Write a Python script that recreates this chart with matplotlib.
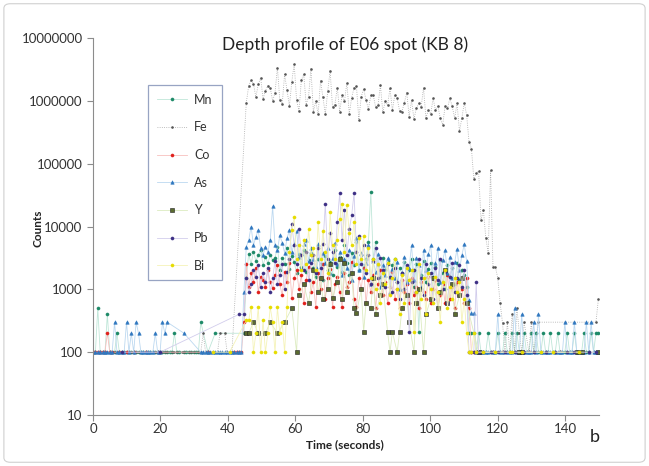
import numpy as np
import matplotlib.pyplot as plt
from matplotlib.patches import FancyBboxPatch
from matplotlib.ticker import NullLocator

plt.rcParams['font.family'] = ['Lato', 'DejaVu Sans']

# one reading every 0.71 s, 212 readings
adim = 0.71
zaman = np.arange(212) * adim

# ---- Fe (counts), 0 = no reading ----
fe_bas = [100, 100, 100, 0, 100, 100, 100, 100, 0, 100,
          100, 0, 100, 100, 100, 0, 100, 100, 100, 100,
          0, 100, 100, 100, 0, 100, 100, 100, 0, 100,
          100, 100, 0, 100, 100, 100, 0, 100, 100, 0,
          100, 100, 100, 0, 100, 100, 200, 100, 0, 100,
          100, 0, 100, 200, 0, 200, 100, 0, 100, 0,
          0, 0, 0, 0]
fe_plato = [933000, 1720000, 2140000, 1860000, 1150000, 1820000, 2340000, 1070000, 1450000, 1740000,
            1620000, 1000000, 1350000, 3390000, 1020000, 891000, 2630000, 1480000, 832000, 2000000,
            3890000, 1020000, 692000, 2140000, 2630000, 871000, 1170000, 3240000, 676000, 977000,
            617000, 2090000, 1150000, 617000, 1410000, 3020000, 794000, 871000, 1620000, 676000,
            1230000, 977000, 1950000, 617000, 1120000, 1620000, 1700000,
            501000, 1170000, 1550000, 1020000, 741000, 1230000, 1230000, 794000, 851000, 1780000,
            661000, 977000, 851000, 1580000, 708000, 1230000, 1100000, 692000, 676000, 933000,
            1350000, 562000, 1020000, 513000, 759000, 912000, 794000, 1620000, 537000, 708000,
            617000, 1100000, 708000, 832000, 525000, 417000, 813000, 759000, 1100000, 813000,
            525000, 912000, 331000, 525000, 933000, 596000, 224000]
fe_dusus = [174000, 57500, 70800, 75900, 12600, 18200, 6610, 3800, 79400, 2290,
            2290, 1510, 603, 288, 100]
fe_son = [300, 100, 400, 100, 500, 200, 100, 300, 0, 100,
          300, 100, 0, 300, 0, 0, 0, 0, 0, 0,
          0, 0, 0, 0, 0, 0, 0, 0, 0, 0,
          0, 0, 0, 0, 0, 0, 0, 300, 700]

# ---- minor elements: start / sputter plateau / end ----
mn_bas = [100, 100, 500, 100, 100, 100, 400, 100, 100, 100,
          200, 100, 100, 100, 100, 100, 100, 100, 100, 100,
          100, 100, 100, 100, 100, 100, 100, 100, 100, 100,
          100, 100, 100, 100, 200, 100, 100, 0, 100, 100,
          100, 100, 100, 100, 100, 300, 0, 0, 100, 0,
          0, 200, 0, 0, 0, 0, 0, 0, 0, 0,
          0, 0]
mn_plato = [0, 200, 1500, 3700, 2500, 4000, 2800, 3500, 4300, 2400,
            3300, 2600, 3500, 2900, 3100, 4800, 2000, 3200, 2500, 4500,
            2100, 3400, 2700, 1800, 3600, 2300, 4200, 1900, 2900, 3800,
            2200, 1600, 3000, 2500, 1400, 3400, 2000, 2700, 1700, 4200,
            2300, 3300, 1900, 5000, 2600, 1700, 3800, 2400, 5700, 2000,
            3500, 2200, 3000, 5700, 35000, 3000, 5700, 2400, 1600, 3200,
            2000, 2800, 1500, 2400, 3000, 1300, 2200, 1800, 2700, 1400,
            2000, 3000, 1100, 2500, 210, 1700, 2800, 1300, 2100, 2600,
            1500, 2300, 1200, 2900, 1800, 1000, 2400, 1600, 2200, 1200,
            2600, 1400, 2000, 1700, 1100, 200, 200]
mn_son = [200, 100, 200, 100, 100, 100, 200, 100, 100, 100,
          200, 100, 100, 200, 100, 100, 200, 100, 200, 100,
          100, 200, 100, 100, 200, 100, 200, 100, 100, 200,
          100, 100, 200, 100, 100, 200, 100, 100, 100, 200,
          100, 100, 200, 100, 100, 100, 200, 100, 100, 200,
          100, 200, 200]

co_bas = [100, 100, 100, 100, 100, 100, 200, 100, 100, 0,
          0, 100, 0, 0, 100, 0, 0, 100, 0, 0,
          0, 0, 100, 0, 0, 0, 0, 100, 0, 0,
          0, 0, 0, 0, 0, 0, 0, 0, 0, 0,
          0, 0, 0, 0, 0, 0, 0, 0, 100, 0,
          0, 0, 0, 0, 0, 0, 0, 0, 0, 100,
          100, 100]
co_plato = [100, 300, 2500, 1100, 1800, 1300, 2200, 900, 1600, 1400,
            1100, 2000, 1300, 1050, 1700, 2400, 1200, 800, 1900, 1300,
            2600, 730, 1500, 2000, 1000, 1700, 600, 1400, 2300, 900,
            1300, 520, 1800, 1000, 2500, 700, 1500, 2100, 520, 1200,
            1600, 900, 520, 1800, 1100, 1300, 2700, 700, 520, 1500,
            1000, 2200, 600, 1400, 900, 1700, 500, 1200, 2000, 800,
            1300, 600, 1100, 1900, 700, 1000, 500, 1400, 900, 1200,
            600, 1500, 800, 1100, 500, 1300, 900, 700, 1600, 600,
            1000, 1400, 500, 800, 1200, 600, 1700, 700, 1100, 500,
            1300, 800, 1000, 600, 1500, 500, 100]
co_son = [100, 100, 0, 100, 0, 0, 0, 0, 100, 0,
          0, 0, 100, 0, 0, 0, 0, 0, 0, 0,
          0, 0, 0, 100, 0, 0, 0, 0, 0, 0,
          0, 0, 0, 0, 0, 0, 100, 0, 0, 0,
          0, 0, 0, 0, 0, 0, 0, 0, 0, 0,
          0, 0, 0]

as_bas = [100, 100, 100, 100, 100, 100, 100, 100, 100, 300,
          100, 100, 100, 100, 300, 100, 200, 100, 300, 200,
          100, 100, 100, 100, 100, 100, 200, 100, 100, 300,
          200, 300, 0, 0, 0, 0, 0, 0, 200, 0,
          0, 0, 0, 0, 0, 100, 100, 100, 100, 100,
          100, 100, 100, 100, 100, 100, 100, 100, 100, 100,
          100, 100]
as_plato = [100, 900, 4800, 6000, 10000, 5000, 6900, 8700, 4500, 3500,
            4800, 3900, 6000, 21000, 5000, 4200, 7200, 5500, 3800, 6500,
            8700, 4000, 5200, 8600, 3300, 2200, 5200, 6000, 2800, 4500,
            3000, 2300, 5200, 1500, 3800, 2600, 4500, 1800, 3200, 5500,
            2500, 4000, 1700, 3000, 2200, 4200, 1400, 3400, 6500, 2000,
            3800, 1600, 2600, 5000, 1200, 2800, 1900, 3600, 1100, 2400,
            1700, 3100, 900, 2100, 1500, 2700, 1000, 1800, 3300, 1300,
            2200, 5100, 1400, 3200, 2400, 1100, 4300, 2000, 3600, 5000,
            1600, 2600, 4600, 1300, 2900, 4200, 1800, 3300, 1500, 2700,
            4400, 2000, 3500, 5200, 2800, 680, 420]
as_son = [420, 100, 100, 100, 100, 100, 100, 0, 100, 100,
          400, 100, 100, 0, 100, 100, 100, 510, 100, 100,
          400, 100, 100, 100, 100, 300, 100, 400, 100, 100,
          100, 100, 100, 0, 100, 100, 100, 100, 300, 100,
          100, 100, 300, 100, 100, 100, 100, 300, 100, 300,
          100, 100, 100]

y_bas = [0] * 62
y_plato = [0, 0, 200, 200, 0, 300, 0, 200, 0, 0,
           200, 0, 300, 0, 0, 200, 0, 0, 300, 0,
           0, 500, 0, 100, 800, 0, 1200, 0, 600, 0,
           2000, 0, 900, 1500, 700, 0, 1000, 2500, 730, 0,
           1300, 3000, 700, 2600, 900, 0, 1800, 500, 420, 0,
           1000, 210, 600, 0, 500, 1500, 400, 0, 800, 1200,
           0, 210, 100, 210, 0, 100, 210, 500, 0, 800,
           300, 0, 100, 600, 1000, 0, 100, 400, 0, 700,
           1500, 0, 500, 900, 0, 2000, 600, 0, 1200, 400,
           0, 800, 1500, 0, 600, 0, 0]
y_son = [0, 0, 100, 0, 0, 0, 0, 0, 0, 0,
         0, 0, 0, 0, 0, 0, 0, 0, 0, 100,
         100, 0, 0, 0, 0, 0, 0, 0, 0, 0,
         0, 0, 0, 0, 0, 0, 0, 0, 0, 0,
         0, 0, 0, 100, 0, 100, 0, 0, 0, 0,
         0, 0, 100]

pb_bas = [0, 0, 0, 0, 0, 0, 0, 0, 0, 0,
          0, 0, 100, 0, 0, 0, 0, 0, 0, 0,
          0, 0, 0, 0, 0, 0, 0, 0, 100, 0,
          0, 0, 0, 0, 0, 0, 0, 0, 0, 0,
          0, 0, 0, 0, 0, 0, 0, 0, 0, 0,
          0, 0, 0, 0, 0, 0, 0, 0, 0, 0,
          0, 400]
pb_plato = [0, 400, 1500, 900, 1200, 2000, 1600, 2400, 1100, 1800,
            1300, 2200, 900, 1500, 2800, 1200, 1700, 2500, 1000, 1900,
            3000, 11000, 5000, 2500, 9000, 3500, 2000, 4000, 1400, 2600,
            3500, 1800, 4500, 2200, 5200, 23000, 3000, 8000, 4000, 2600,
            12000, 34000, 6000, 18600, 3500, 9000, 15000, 34000, 4000, 7000,
            2500, 5000, 1800, 3500, 1200, 2800, 4500, 1500, 3200, 2000,
            1100, 2500, 1600, 900, 2200, 1300, 700, 1800, 1000, 2400,
            210, 1300, 2000, 900, 3000, 1500, 800, 2500, 1200, 1800,
            700, 2200, 1400, 3000, 1000, 1900, 600, 1600, 2600, 900,
            1500, 2400, 1100, 2000, 800, 100, 100]
pb_son = [100, 1300, 100, 0, 100, 0, 0, 100, 0, 0,
          100, 0, 0, 100, 0, 0, 0, 100, 0, 0,
          0, 100, 0, 0, 0, 100, 0, 0, 0, 0,
          100, 0, 0, 0, 100, 0, 0, 0, 0, 100,
          0, 0, 100, 0, 0, 0, 0, 0, 100, 0,
          0, 100, 0]

bi_bas = [0, 0, 0, 0, 0, 0, 0, 0, 0, 0,
          0, 0, 0, 0, 0, 0, 0, 0, 0, 0,
          0, 0, 0, 0, 0, 0, 0, 0, 0, 0,
          0, 0, 0, 0, 0, 0, 0, 0, 0, 0,
          0, 0, 0, 0, 0, 0, 0, 0, 0, 0,
          100, 0, 0, 0, 0, 0, 0, 100, 0, 0,
          0, 0]
bi_plato = [0, 0, 320, 320, 520, 100, 200, 520, 100, 320,
            100, 200, 520, 300, 100, 520, 200, 300, 100, 520,
            4000, 8700, 14000, 3000, 5000, 2000, 6000, 2500, 9000, 3500,
            4500, 2000, 12000, 3000, 8500, 4000, 1800, 17000, 5000, 3000,
            6000, 13000, 23000, 4000, 22000, 8000, 5000, 12000, 2500, 6500,
            3000, 7000, 2000, 4500, 1500, 3000, 1000, 2500, 600, 1800,
            1200, 2600, 800, 1500, 3000, 1000, 400, 1700, 600, 2200,
            1400, 2000, 210, 900, 2500, 700, 1500, 400, 1800, 1000,
            600, 1600, 900, 300, 1300, 2000, 500, 1100, 700, 1500,
            900, 1300, 300, 700, 200, 100, 100]
bi_son = [200, 100, 0, 0, 100, 0, 0, 0, 0, 100,
          0, 0, 0, 0, 0, 100, 100, 0, 0, 0,
          100, 0, 0, 0, 0, 0, 0, 0, 100, 0,
          0, 0, 0, 100, 0, 0, 0, 0, 0, 0,
          0, 0, 0, 0, 100, 0, 0, 0, 0, 0,
          0, 0, 0]

seriler = [
    # label, values, marker colour, marker edge, line colour, marker, size, line style
    ('Mn', mn_bas + mn_plato + mn_son, '#1d8a68', '#1d8a68', '#bfe6d8', 'o', 2.2, '-'),
    ('Fe', fe_bas + fe_plato + fe_dusus + fe_son, '#555555', '#555555', '#a8a8a8', 'o', 1.4, ':'),
    ('Co', co_bas + co_plato + co_son, '#e0201c', '#e0201c', '#f7c0be', 'o', 2.2, '-'),
    ('As', as_bas + as_plato + as_son, '#2f77bf', '#2f77bf', '#bcd8f0', '^', 2.5, '-'),
    ('Y', y_bas + y_plato + y_son, '#5b6b30', '#1f1f1f', '#dcebc0', 's', 2.5, '-'),
    ('Pb', pb_bas + pb_plato + pb_son, '#3d2f85', '#3d2f85', '#d2cdec', 'o', 2.2, '-'),
    ('Bi', bi_bas + bi_plato + bi_son, '#e6dc00', '#e6dc00', '#f5f3b8', 'o', 2.2, '-'),
]

fig = plt.figure(figsize=(6.49, 4.66), dpi=100)
fig.patches.append(FancyBboxPatch((0.006, 0.008), 0.988, 0.984, boxstyle='round,pad=0,rounding_size=0.01',
                                  transform=fig.transFigure, fc='none', ec='#d0d0d0', lw=0.8, zorder=-5))
ax = fig.add_axes([93 / 649, 51 / 466, 506 / 649, 377 / 466])
ax.patch.set_alpha(0)

for ad, deger, mrenk, kenar, crenk, isaret, boy, stil in seriler:
    deger = np.array(deger, dtype=float)
    var = deger > 0
    ax.plot(zaman[var], deger[var], color=crenk, lw=0.6, ls=stil, marker=isaret, ms=boy,
            mfc=mrenk, mec=kenar, mew=0.4, label=ad)

ax.set_yscale('log')
ax.set_ylim(10, 1e7)
ax.set_xlim(0, 150)
yt = [10, 100, 1000, 10000, 100000, 1000000, 10000000]
ax.set_yticks(yt)
ax.set_yticklabels([str(v) for v in yt])
ax.yaxis.set_minor_locator(NullLocator())
ax.set_xticks(range(0, 141, 20))
for s in ['top', 'right']:
    ax.spines[s].set_visible(False)
for s in ['left', 'bottom']:
    ax.spines[s].set_color('#8c8c8c')
    ax.spines[s].set_linewidth(0.8)
ax.tick_params(colors='#8c8c8c', labelcolor='#333333', labelsize=9.5, length=4, width=0.8)
ax.tick_params(axis='x', pad=2)

fig.text(345 / 649, 1 - 45 / 466, 'Depth profile of E06 spot (KB 8)', fontsize=12.5,
         color='#222222', ha='center', va='center')
fig.text(345 / 649, 1 - 445 / 466, 'Time (seconds)', fontsize=8.5, fontweight='bold',
         color='#222222', ha='center', va='center')
fig.text(38 / 649, 1 - 228 / 466, 'Counts', fontsize=8.5, fontweight='bold', rotation=90,
         color='#222222', ha='center', va='center')
fig.text(595 / 649, 1 - 437 / 466, 'b', fontsize=13, ha='center', va='center', color='#222222')

leg = ax.legend(loc='upper left', bbox_to_anchor=((148 - 93) / 506, (415 - 85) / 377),
                fontsize=9, frameon=True, fancybox=False, handlelength=2.4, handletextpad=0.6,
                labelspacing=1.25, borderpad=0.7, borderaxespad=0)
leg.get_frame().set_edgecolor('#7f8db5')
leg.get_frame().set_linewidth(0.9)
for t in leg.get_texts():
    t.set_color('#333333')

fig.savefig('out.png', dpi=100)
